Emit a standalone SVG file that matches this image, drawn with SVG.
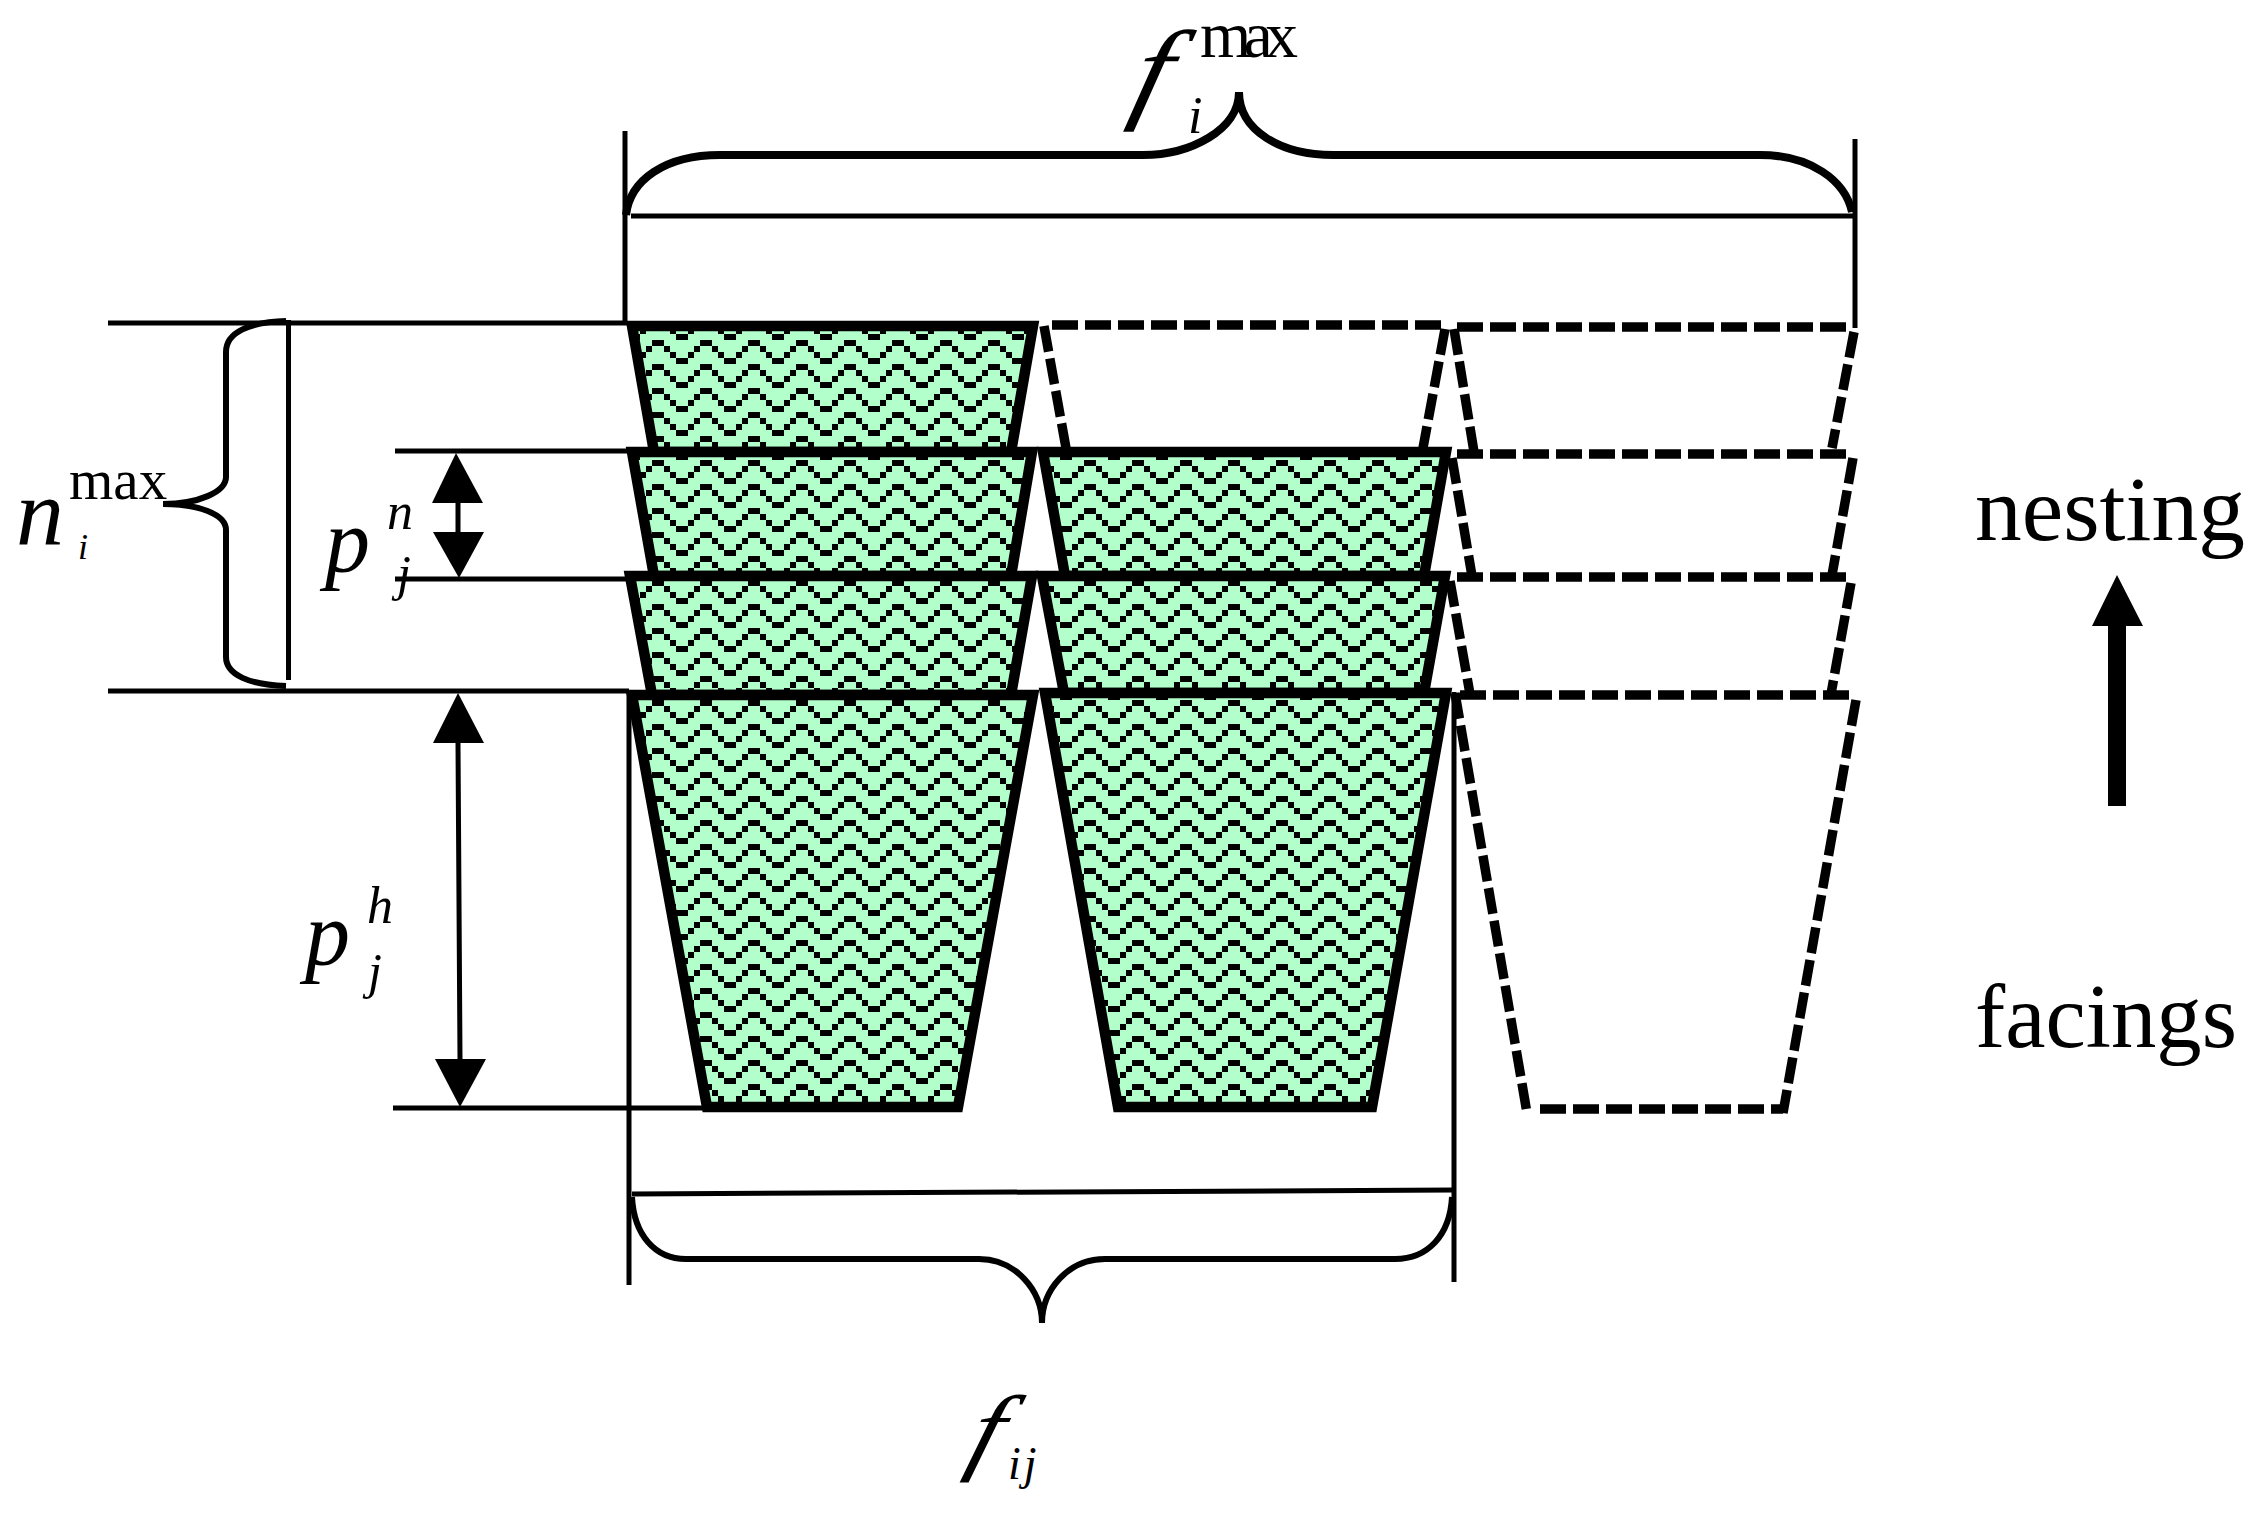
<svg xmlns="http://www.w3.org/2000/svg" width="2260" height="1513" viewBox="0 0 2260 1513">
<style>
text{font-family:"Liberation Serif","Times New Roman",serif;fill:#000}
.it{font-style:italic}
.cup{fill:url(#wave);stroke:#000;stroke-width:10.500;stroke-linejoin:miter;stroke-miterlimit:10}
.dash{fill:none;stroke:#000;stroke-width:9.500;stroke-dasharray:26 7}
.ln{fill:none;stroke:#000;stroke-width:5}
.br{fill:none;stroke:#000;stroke-width:6}
.brw{fill:none;stroke:#000;stroke-width:8}
.hd{fill:#000}
</style>
<defs>
<pattern id="wave" patternUnits="userSpaceOnUse" x="652" y="340" width="48" height="24">
<rect width="48" height="24" fill="#b3ffcc"/>
<path d="M0 0h12v6H0zM12 6h6v6h-6zM18 12h6v6h-6zM24 18h12v6H24zM36 12h6v6h-6zM42 6h6v6h-6z" fill="#000" shape-rendering="crispEdges"/>
</pattern>
</defs>
<rect width="2260" height="1513" fill="#fff"/>

<g id="cup-c1-r1"><polygon class="cup" points="632,326 1033,326 1011,452 654,452"/></g>
<g id="cup-c1-r2"><polygon class="cup" points="632,452 1032,452 1011,576 654,576"/></g>
<g id="cup-c1-r3"><polygon class="cup" points="630,576 1032,576 1011,695 652,695"/></g>
<g id="cup-c1-r4"><polygon class="cup" points="632,695 1033,695 958,1107 707,1107"/></g>

<g id="cup-c2-r1"><path class="dash" d="M1052 325H1443M1445 329L1423 448M1044 326L1066 448"/></g>
<g id="cup-c2-r2"><polygon class="cup" points="1043,452 1446,452 1424,576 1065,576"/></g>
<g id="cup-c2-r3"><polygon class="cup" points="1042,576 1445,576 1424,693 1064,693"/></g>
<g id="cup-c2-r4"><polygon class="cup" points="1045,693 1446,693 1372,1107 1118,1107"/></g>

<g id="cup-c3-r1"><path class="dash" d="M1457 327H1850M1454 329L1474 452M1854 332L1832 448"/></g>
<g id="cup-c3-r2"><path class="dash" d="M1457 454H1850M1452 458L1472 576M1853 458L1832 575"/></g>
<g id="cup-c3-r3"><path class="dash" d="M1457 577H1850M1450 581L1470 694M1851 583L1831 694"/></g>
<g id="cup-c3-r4"><path class="dash" d="M1460 695H1853M1455 693L1527 1113M1856 700L1783 1113M1540 1109H1783"/></g>

<g id="connectors">
<path class="ln" d="M108 323H627M108 691H629M395 451H632M395 579H632M393 1108H707"/>
<path class="ln" d="M288.500 320V680"/>
<path class="ln" d="M625 131V323M1855 139V328M629 692V1285M1454 692V1282"/>
<path class="ln" d="M631 216H1853M632 1194L1454 1190"/>
<path class="ln" d="M458 503V532M458 743L460 1059"/>
<polygon class="hd" points="456,453 483,503 432,503"/>
<polygon class="hd" points="459,578 433,532 484,532"/>
<polygon class="hd" points="458,693 484,743 433,743"/>
<polygon class="hd" points="460,1107 435,1059 486,1059"/>
<path class="br" d="M286 321C250 322 226 332 226 352V477C226 492 198 504 163 504C198 504 226 514 226 530V657C226 675 250 685 286 686"/>
<path class="brw" d="M626 215C630 180 665 155 720 155H1143C1190 155 1239 130 1239 92C1239 130 1280 155 1333 155H1760C1810 155 1845 180 1852 212"/>
<path class="br" d="M632 1197C634 1235 655 1259 686 1259H979C1015 1259 1042 1290 1042 1323C1042 1290 1068 1259 1105 1259H1395C1428 1259 1450 1235 1452 1197"/>
<polygon id="direction-arrow" class="hd" points="2117,575 2143,626 2126,626 2126,806 2108,806 2108,626 2092,626"/>
</g>

<g id="label-f-max">
<text class="it" x="-24" y="0" font-size="112" transform="translate(1155 108) scale(1.15 1) skewX(-12)">f</text>
<text x="1200" y="57" font-size="66" textLength="98" lengthAdjust="spacing">max</text>
<text class="it" x="1188" y="133" font-size="52">i</text>
</g>
<g id="label-n-max">
<text class="it" x="16" y="545" font-size="96">n</text>
<text x="69" y="499" font-size="57">max</text>
<text class="it" x="78" y="559" font-size="36">i</text>
</g>
<g id="label-p-n">
<text class="it" x="325" y="572" font-size="90">p</text>
<text class="it" x="387" y="529" font-size="52">n</text>
<text class="it" x="397" y="590" font-size="50">j</text>
</g>
<g id="label-p-h">
<text class="it" x="305" y="965" font-size="90">p</text>
<text class="it" x="367" y="923" font-size="52">h</text>
<text class="it" x="368" y="988" font-size="50">j</text>
</g>
<g id="label-f-ij">
<text class="it" x="-18" y="0" font-size="96" transform="translate(985 1462) scale(1.15 1) skewX(-14)">f</text>
<text class="it" x="1008" y="1479" font-size="46" letter-spacing="3">ij</text>
</g>
<g id="label-nesting"><text x="1975" y="540" font-size="92" textLength="270" lengthAdjust="spacingAndGlyphs">nesting</text></g>
<g id="label-facings"><text x="1975" y="1047" font-size="90" textLength="262" lengthAdjust="spacingAndGlyphs">facings</text></g>
</svg>
